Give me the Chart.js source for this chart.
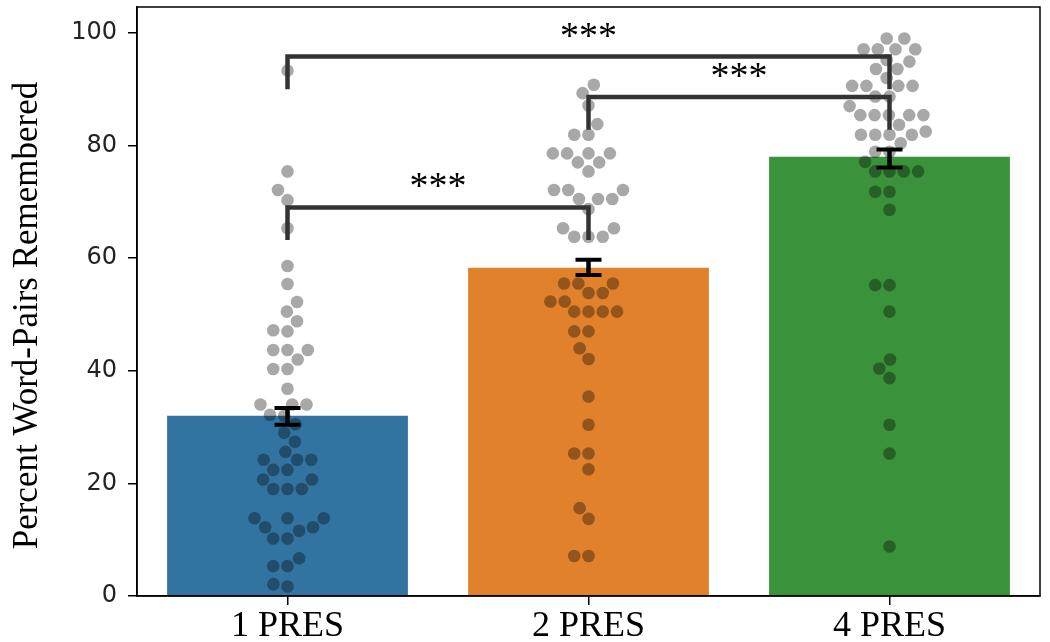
<!DOCTYPE html>
<html>
<head>
<meta charset="utf-8">
<script src="https://cdn.jsdelivr.net/npm/chart.js@4"></script>
<style>
  html, body { margin: 0; padding: 0; background: #fff; }
  #wrap { width: 1050px; height: 642px; }
</style>
</head>
<body>
<div id="wrap"><canvas id="grafico"></canvas></div>
<script>
const categorias = ['1 PRES', '2 PRES', '4 PRES'];
const medias = [32.0, 58.3, 78.0];
const errInf = [30.4, 57.0, 76.1];
const errSup = [33.4, 59.7, 79.3];
const colores = ['#3274a1', '#e1812c', '#3a923a'];
const ticksY = [0, 20, 40, 60, 80, 100];
const tituloY = 'Percent Word-Pairs Remembered';

// valores individuales (enjambre)
const puntos1 = [93.3, 75.4, 72.1, 70.3, 65.3, 58.6, 55.4, 52.2, 50.5, 48.8, 47.2, 47.0,
  43.7, 43.7, 43.7, 42.0, 40.3, 40.3, 36.8, 34.0, 34.0, 34.0, 32.2, 32.0, 30.5, 29.0,
  27.4, 25.6, 24.2, 24.2, 24.2, 22.4, 22.4, 20.7, 20.7, 19.0, 19.0, 19.0, 13.8, 13.8,
  13.8, 12.2, 12.2, 11.6, 10.2, 10.2, 6.7, 5.3, 5.3, 2.1, 1.7];
const puntos2 = [90.8, 89.3, 87.1, 83.8, 81.9, 81.9, 78.6, 78.6, 78.6, 78.6, 77.0, 77.0,
  75.4, 72.1, 72.1, 72.1, 70.5, 70.5, 70.5, 68.7, 65.3, 65.3, 63.8, 63.8, 63.8, 55.5,
  55.5, 55.5, 53.8, 53.8, 52.3, 52.3, 50.5, 50.5, 50.5, 50.5, 47.0, 47.0, 44.0, 42.1,
  35.4, 30.4, 25.3, 25.3, 22.5, 15.6, 13.7, 7.1, 7.1];
const puntos4 = [99.0, 99.0, 97.1, 97.1, 97.1, 97.1, 95.2, 94.9, 93.6, 93.6, 92.0, 90.6,
  90.6, 90.6, 90.6, 88.7, 88.7, 87.0, 85.4, 85.4, 85.4, 85.4, 85.4, 83.7, 82.5, 81.9,
  81.9, 81.9, 81.9, 80.4, 78.9, 78.9, 77.1, 75.4, 75.4, 75.4, 75.4, 71.8, 71.8, 68.6,
  55.2, 55.2, 50.5, 42.0, 40.4, 38.7, 30.4, 25.3, 8.8];

// comparaciones significativas
const pares = [[0, 1], [1, 2], [0, 2]];
const alturaPar = [69.0, 88.6, 95.8];
const caidaPar = 5.8;
const etiquetaPar = ['***', '***', '***'];

const radioEnjambre = 6.8;

const extras = {
  id: 'extras',
  afterDatasetsDraw(chart) {
    const { ctx, chartArea: a, scales: { x, y } } = chart;
    ctx.save();

    // marco completo
    ctx.strokeStyle = '#000';
    ctx.lineWidth = 1.5;
    ctx.strokeRect(a.left, a.top, a.right - a.left, a.bottom - a.top);

    // barras de error
    categorias.forEach((c, i) => {
      const px = x.getPixelForValue(i);
      const y1 = y.getPixelForValue(errInf[i]);
      const y2 = y.getPixelForValue(errSup[i]);
      ctx.strokeStyle = '#000';
      ctx.lineWidth = 4.5;
      ctx.beginPath();
      ctx.moveTo(px, y1);
      ctx.lineTo(px, y2);
      ctx.stroke();
      ctx.lineWidth = 4;
      ctx.beginPath();
      ctx.moveTo(px - 13, y1); ctx.lineTo(px + 13, y1);
      ctx.moveTo(px - 13, y2); ctx.lineTo(px + 13, y2);
      ctx.stroke();
    });

    // llaves con asteriscos
    ctx.strokeStyle = '#333';
    ctx.lineWidth = 4.5;
    ctx.lineJoin = 'miter';
    ctx.fillStyle = '#000';
    ctx.font = '38px "Liberation Serif"';
    ctx.textAlign = 'center';
    ctx.textBaseline = 'alphabetic';
    pares.forEach(([i, j], k) => {
      const x1 = x.getPixelForValue(i);
      const x2 = x.getPixelForValue(j);
      const yt = y.getPixelForValue(alturaPar[k]);
      const yb = y.getPixelForValue(alturaPar[k] - caidaPar);
      ctx.beginPath();
      ctx.moveTo(x1, yb);
      ctx.lineTo(x1, yt);
      ctx.lineTo(x2, yt);
      ctx.lineTo(x2, yb);
      ctx.stroke();
      ctx.fillText(etiquetaPar[k], (x1 + x2) / 2, yt - 9);
    });

    // título del eje y (algo más abajo que el centro, como en el original)
    ctx.translate(28, (a.top + a.bottom) / 2 + 14);
    ctx.rotate(-Math.PI / 2);
    ctx.font = '35px "Liberation Serif"';
    ctx.textBaseline = 'middle';
    ctx.fillText(tituloY, 0, 0);

    ctx.restore();
  }
};

const puntoDs = () => ({
  type: 'scatter',
  xAxisID: 'xs',
  yAxisID: 'y',
  data: [],
  order: 1,
  pointRadius: 6.3,
  pointHoverRadius: 6.3,
  pointBorderWidth: 0,
  pointBackgroundColor: 'rgba(0,0,0,0.34)',
  backgroundColor: 'rgba(0,0,0,0.34)',
  borderWidth: 0
});

const chart = new Chart(document.getElementById('grafico'), {
  type: 'bar',
  data: {
    labels: categorias,
    datasets: [
      {
        type: 'bar',
        data: medias,
        backgroundColor: colores,
        borderWidth: 0,
        grouped: false,
        categoryPercentage: 1.0,
        barPercentage: 0.8,
        order: 3
      },
      puntoDs(), puntoDs(), puntoDs()
    ]
  },
  options: {
    responsive: true,
    maintainAspectRatio: false,
    animation: false,
    layout: { padding: { top: 7, right: 10, left: 0, bottom: 0 } },
    plugins: { legend: { display: false }, tooltip: { enabled: false } },
    scales: {
      x: {
        type: 'category',
        offset: true,
        grid: { offset: false, drawOnChartArea: false, tickLength: 9, color: '#000', lineWidth: 1.5 },
        border: { color: '#000', width: 1.5 },
        ticks: { font: { family: 'Liberation Serif', size: 36 }, color: '#000', padding: 0 },
        afterFit: s => { s.height = 46; s.paddingLeft = 0; s.paddingRight = 0; }
      },
      xs: {
        type: 'linear', min: -0.5, max: 2.5, offset: false, display: false,
        grid: { offset: false }
      },
      y: {
        min: 0,
        max: 104.6,
        grid: { drawOnChartArea: false, tickLength: 9, color: '#000', lineWidth: 1.5 },
        border: { color: '#000', width: 1.5 },
        ticks: { font: { family: 'DejaVu Sans', size: 24 }, color: '#222', padding: 11 },
        afterBuildTicks: s => { s.ticks = ticksY.map(v => ({ value: v })); },
        afterFit: s => { s.width = 137; s.paddingTop = 0; s.paddingBottom = 0; }
      }
    }
  },
  plugins: [extras]
});

// enjambre al estilo seaborn: se coloca cada punto lo más cerca del centro sin solaparse
function acomodarEnjambre(chart) {
  const xs = chart.scales.xs;
  const y = chart.scales.y;
  const r = radioEnjambre;
  [puntos1, puntos2, puntos4].forEach((vals, g) => {
    const cx = xs.getPixelForValue(g);
    const ordenados = [...vals].sort((a, b) => a - b);
    const enjambre = [];
    ordenados.forEach(v => {
      const py = y.getPixelForValue(v);
      const vecinos = [];
      for (let j = enjambre.length - 1; j >= 0; j--) {
        if (Math.abs(py - enjambre[j].py) < 2 * r) vecinos.push(enjambre[j]);
        else break;
      }
      const cands = [cx];
      vecinos.forEach(n => {
        const dy = py - n.py;
        const dx = Math.sqrt(Math.max(4 * r * r - dy * dy, 0)) * 1.05;
        cands.push(n.px - dx, n.px + dx);
      });
      cands.sort((a, b) => Math.abs(a - cx) - Math.abs(b - cx));
      const elegido = cands.find(c => vecinos.every(n => (n.px - c) ** 2 + (n.py - py) ** 2 >= 4 * r * r - 1e-6));
      enjambre.push({ px: elegido === undefined ? cx : elegido, py, v });
    });
    chart.data.datasets[g + 1].data = enjambre.map(p => ({ x: xs.getValueForPixel(p.px), y: p.v }));
  });
  chart.update('none');
}

acomodarEnjambre(chart);
</script>
</body>
</html>
